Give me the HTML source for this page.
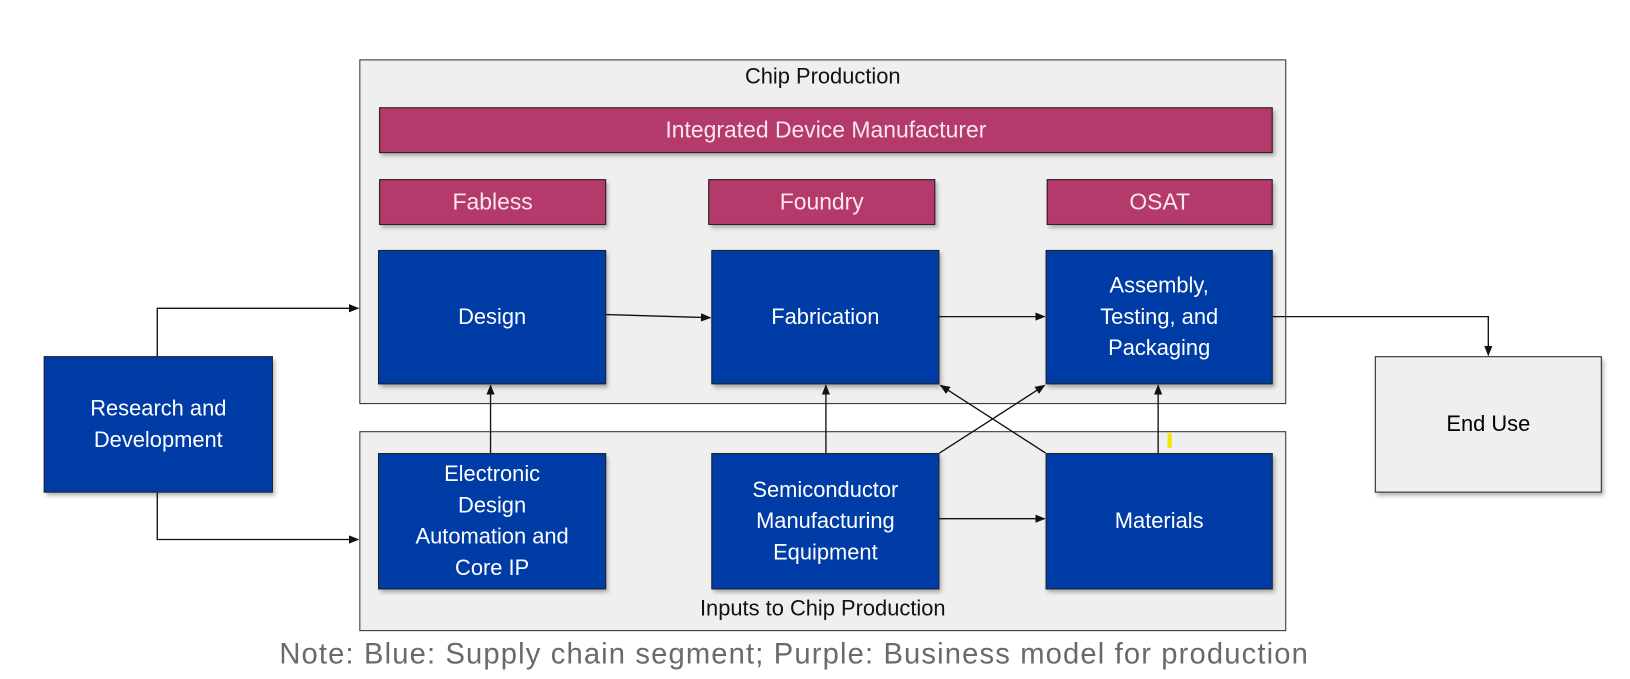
<!DOCTYPE html>
<html><head><style>
body{margin:0;background:#fff;width:1630px;height:679px;position:relative;overflow:hidden;font-family:"Liberation Sans",sans-serif}
#w{position:absolute;left:0;top:0;width:1565px;height:652px;transform:scale(1.0415);transform-origin:0 0}
.b{position:absolute;box-sizing:border-box;display:flex;align-items:center;justify-content:center;text-align:center;border:1.5px solid #222;box-shadow:2px 3px 4px rgba(0,0,0,.3)}
.o{background:#efefef;border:1.5px solid #333;box-shadow:none}
.p{background:#b33a6b;color:#fbe6ee;font-size:22px}
.u{background:#003ca6;color:#fff;font-size:21px;line-height:30px}
.t{position:absolute;font-size:21px;color:#111;text-align:center}
</style></head><body><div id="w">
<div class="b o" style="left:345px;top:57px;width:890px;height:331px"></div>
<div class="b o" style="left:345px;top:414px;width:890px;height:192px"></div>
<div class="t" style="left:345px;top:62px;width:890px">Chip Production</div>
<div class="t" style="left:345px;top:573px;width:890px">Inputs to Chip Production</div>
<div class="b p" style="left:364px;top:103px;width:858px;height:44px">Integrated Device Manufacturer</div>
<div class="b p" style="left:364px;top:172px;width:218px;height:44px">Fabless</div>
<div class="b p" style="left:680px;top:172px;width:218px;height:44px">Foundry</div>
<div class="b p" style="left:1005px;top:172px;width:217px;height:44px">OSAT</div>
<div class="b u" style="left:363px;top:240px;width:219px;height:129px">Design</div>
<div class="b u" style="left:683px;top:240px;width:219px;height:129px">Fabrication</div>
<div class="b u" style="left:1004px;top:240px;width:218px;height:129px">Assembly,<br>Testing, and<br>Packaging</div>
<div class="b u" style="left:363px;top:435px;width:219px;height:131px">Electronic<br>Design<br>Automation and<br>Core IP</div>
<div class="b u" style="left:683px;top:435px;width:219px;height:131px">Semiconductor<br>Manufacturing<br>Equipment</div>
<div class="b u" style="left:1004px;top:435px;width:218px;height:131px">Materials</div>
<div class="b u" style="left:42px;top:342px;width:220px;height:131px">Research and<br>Development</div>
<div class="b" style="left:1320px;top:342px;width:218px;height:131px;background:#efefef;font-size:21px">End Use</div>
<div style="position:absolute;left:1121px;top:416px;width:4px;height:14px;background:#f5e400"></div>
<svg width="1565" height="652" style="position:absolute;left:0;top:0">
<defs><marker id="a" markerWidth="10" markerHeight="8" refX="9" refY="4" orient="auto" markerUnits="userSpaceOnUse"><path d="M0,0L10,4L0,8z" fill="#111"/></marker></defs>
<g stroke="#111" stroke-width="1.3" fill="none" marker-end="url(#a)">
<polyline points="151,342 151,296 344,296"/>
<polyline points="151,473 151,518 344,518"/>
<line x1="582" y1="302" x2="682" y2="305"/>
<line x1="902" y1="304" x2="1003" y2="304"/>
<polyline points="1222,304 1429,304 1429,341"/>
<line x1="471" y1="435" x2="471" y2="370"/>
<line x1="793" y1="435" x2="793" y2="370"/>
<line x1="1112" y1="435" x2="1112" y2="370"/>
<line x1="902" y1="435" x2="1003" y2="370"/>
<line x1="1004" y1="435" x2="903" y2="370"/>
<line x1="902" y1="498" x2="1003" y2="498"/>
</g></svg>
<div style="position:absolute;left:0;width:1525px;top:612px;text-align:center;font-size:28px;letter-spacing:1.1px;color:#6a6a6a">Note: Blue: Supply chain segment; Purple: Business model for production</div>
</div></body></html>
